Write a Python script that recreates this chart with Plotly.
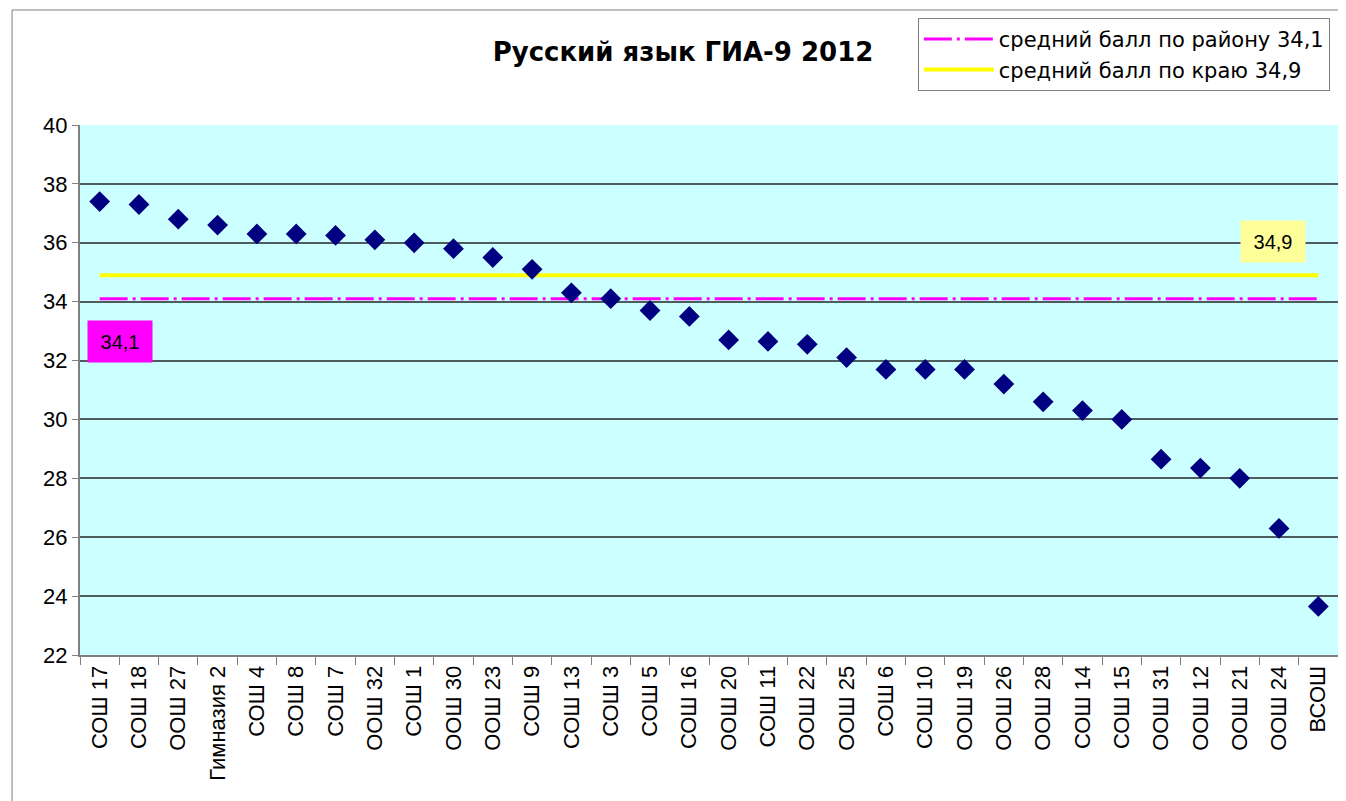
import plotly.graph_objects as go

schools = ["СОШ 17", "СОШ 18", "ООШ 27", "Гимназия 2", "СОШ 4", "СОШ 8", "СОШ 7", "ООШ 32",
           "СОШ 1", "ООШ 30", "ООШ 23", "СОШ 9", "СОШ 13", "СОШ 3", "СОШ 5", "СОШ 16",
           "ООШ 20", "СОШ 11", "ООШ 22", "ООШ 25", "СОШ 6", "СОШ 10", "ООШ 19", "ООШ 26",
           "ООШ 28", "СОШ 14", "СОШ 15", "ООШ 31", "ООШ 12", "ООШ 21", "ООШ 24", "ВСОШ"]
scores = [37.4, 37.3, 36.8, 36.6, 36.3, 36.3, 36.25, 36.1,
          36.0, 35.8, 35.5, 35.1, 34.3, 34.1, 33.7, 33.5,
          32.7, 32.65, 32.55, 32.1, 31.7, 31.7, 31.7, 31.2,
          30.6, 30.3, 30.0, 28.65, 28.35, 28.0, 26.3, 23.65]
district_avg = 34.1
region_avg = 34.9
district_label = "средний балл по району 34,1"
region_label = "средний балл по краю 34,9"
title_text = "Русский язык ГИА-9 2012"
y_ticks = [22, 24, 26, 28, 30, 32, 34, 36, 38, 40]

FONT = "Liberation Sans, Arial, sans-serif"
FONT2 = "DejaVu Sans, Verdana, sans-serif"

fig = go.Figure()
fig.add_trace(go.Scatter(
    x=schools, y=[district_avg] * len(schools), mode="lines",
    line=dict(color="#FF00FF", width=3, dash="28px,5px,3px,5px"),
    name=district_label))
fig.add_trace(go.Scatter(
    x=schools, y=[region_avg] * len(schools), mode="lines",
    line=dict(color="#FFFF00", width=4),
    name=region_label))
fig.add_trace(go.Scatter(
    x=schools, y=scores, mode="markers",
    marker=dict(symbol="diamond", size=16, color="#000080"),
    showlegend=False, name="балл"))

fig.add_annotation(x=0.52, y=32.65, xref="x", yref="y", text="34,1",
                   showarrow=False, bgcolor="#FF00FF", width=56, height=33,
                   font=dict(family=FONT, size=20, color="black"), borderpad=4)
fig.add_annotation(x=29.85, y=36.05, xref="x", yref="y", text="34,9",
                   showarrow=False, bgcolor="#FFFF99", width=56, height=33,
                   font=dict(family=FONT, size=20, color="black"), borderpad=4)

# outer chart border (top and left)
fig.add_shape(type="line", xref="paper", yref="paper",
              x0=-0.054, x1=1.01, y0=1.217, y1=1.217, line=dict(color="#808080", width=1))
fig.add_shape(type="line", xref="paper", yref="paper",
              x0=-0.054, x1=-0.054, y0=-0.3, y1=1.217, line=dict(color="#808080", width=1))

fig.update_layout(
    width=1338, height=793,
    margin=dict(l=72, r=8, t=117, b=146),
    paper_bgcolor="white", plot_bgcolor="#CCFFFF",
    font=dict(family=FONT, color="black"),
    title=dict(text="<b>" + title_text + "</b>", x=0.5045, xref="container", y=1 - 44 / 793,
               yref="container", xanchor="center", yanchor="middle",
               font=dict(family=FONT2, size=26, color="black")),
    legend=dict(x=0.666, y=1.202, xanchor="left", yanchor="top",
                bgcolor="white", bordercolor="#808080", borderwidth=1,
                font=dict(family=FONT2, size=21, color="black"),
                itemwidth=70, tracegroupgap=0),
    showlegend=True,
)
fig.update_xaxes(type="category", tickangle=-90, tickson="boundaries", ticks="outside",
                 ticklen=8, tickcolor="#808080", showline=True, linecolor="#808080", linewidth=2,
                 showgrid=False, tickfont=dict(family=FONT, size=22, color="black"),
                 range=[-0.5, len(schools) - 0.5])
fig.update_yaxes(range=[22, 40], tickvals=y_ticks, ticks="outside", ticklen=6,
                 tickcolor="#808080", showline=True, linecolor="#808080", linewidth=2,
                 showgrid=True, gridcolor="#4d5d5d", gridwidth=1.5,
                 tickfont=dict(family=FONT, size=22, color="black"), zeroline=False)

fig.write_html("out.html")
